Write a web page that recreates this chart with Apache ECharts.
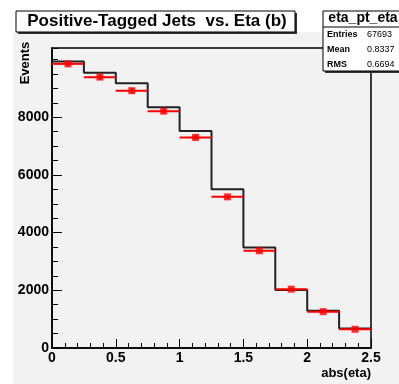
<!DOCTYPE html>
<html><head><meta charset="utf-8">
<script src="https://cdn.jsdelivr.net/npm/echarts@6/dist/echarts.min.js"></script>
<style>html,body{margin:0;padding:0;background:#fff}#c{width:399px;height:384px}</style>
</head><body><div id="c"></div>
<script>
// ---- data ----
const binEdges = [0, 0.25, 0.5, 0.75, 1.0, 1.25, 1.5, 1.75, 2.0, 2.25, 2.5];
const histValues = [9930, 9540, 9180, 8350, 7520, 5500, 3485, 2010, 1290, 680];
const pointValues = [9850, 9390, 8920, 8210, 7300, 5240, 3370, 2040, 1260, 650];
const pointErrors = [100, 97, 94, 91, 85, 72, 58, 45, 35, 25];
const yTickLabels = [0, 2000, 4000, 6000, 8000];
const xTickLabels = ['0', '0.5', '1', '1.5', '2', '2.5'];
const titleText = 'Positive-Tagged Jets  vs. Eta (b)';
const statsName = 'eta_pt_eta';
const statsRows = [['Entries', '67693'], ['Mean', '0.8337'], ['RMS', '0.6694']];

// ---- derived ----
const histData = histValues.map((v, i) => [binEdges[i], v]);
histData.push([binEdges[binEdges.length - 1], histValues[histValues.length - 1]]);
const pointData = pointValues.map((v, i) => [
  (binEdges[i] + binEdges[i + 1]) / 2, v, binEdges[i], binEdges[i + 1], pointErrors[i]
]);

const font = 'Liberation Sans';
const chart = echarts.init(document.getElementById('c'), null, {renderer: 'canvas'});

const statsGraphics = [];
const sx = 323, sy = 11, sw = 82, sh = 60;
statsGraphics.push({type: 'rect', shape: {x: sx + 2, y: sy + 2, width: sw, height: sh}, style: {fill: '#333'}, z: 20});
statsGraphics.push({type: 'rect', shape: {x: sx, y: sy, width: sw, height: sh}, style: {fill: '#fff', stroke: '#000', lineWidth: 1}, z: 21});
statsGraphics.push({type: 'text', x: 363, y: 18, style: {text: statsName, font: 'bold 14px ' + font, fill: '#000', align: 'center', verticalAlign: 'middle'}, z: 22});
statsGraphics.push({type: 'line', shape: {x1: sx, y1: 27, x2: 399, y2: 27}, style: {stroke: '#000', lineWidth: 1}, z: 22});
statsRows.forEach((r, i) => {
  const yy = 35 + i * 15;
  statsGraphics.push({type: 'text', x: 327, y: yy, style: {text: r[0], font: 'bold 9px ' + font, fill: '#000', align: 'left', verticalAlign: 'middle'}, z: 22});
  statsGraphics.push({type: 'text', x: 367, y: yy, style: {text: r[1], font: '9px ' + font, fill: '#000', align: 'left', verticalAlign: 'middle'}, z: 22});
});

chart.setOption({
  animation: false,
  backgroundColor: '#fff',
  grid: {left: 52, right: 28, top: 48, bottom: 36, show: true, borderColor: '#000', borderWidth: 1.5, backgroundColor: 'transparent'},
  xAxis: {
    type: 'value', min: 0, max: 2.5, interval: 0.5,
    axisLine: {show: true, onZero: false, lineStyle: {color: '#000', width: 1.5}},
    axisTick: {show: true, inside: true, length: 9, lineStyle: {color: '#000', width: 1}},
    minorTick: {show: true, splitNumber: 5, length: 5, lineStyle: {color: '#000', width: 1}},
    splitLine: {show: false},
    axisLabel: {color: '#000', fontFamily: font, fontWeight: 'bold', fontSize: 14, margin: 3,
      formatter: v => { const s = String(Math.round(v * 10) / 10); return xTickLabels.includes(s) ? s : ''; }}
  },
  yAxis: [{
    type: 'value', min: 0, max: 10400,
    axisLine: {show: true, lineStyle: {color: '#000', width: 1.5}},
    axisTick: {show: true, inside: true, length: 10, customValues: yTickLabels, lineStyle: {color: '#000', width: 1}},
    splitLine: {show: false},
    axisLabel: {color: '#000', fontFamily: font, fontWeight: 'bold', fontSize: 14, margin: 3, customValues: yTickLabels,
      formatter: v => String(v)}
  }, {
    type: 'value', min: 0, max: 10400, interval: 500, position: 'left',
    axisLine: {show: false},
    axisTick: {show: true, inside: true, length: 6, lineStyle: {color: '#000', width: 1}},
    splitLine: {show: false},
    axisLabel: {show: false}
  }],
  graphic: [
    {type: 'rect', shape: {x: 13, y: 32, width: 386, height: 352}, style: {fill: '#f2f2f2'}, z: -10, silent: true},
    {type: 'rect', shape: {x: 18, y: 13, width: 279, height: 21}, style: {fill: '#333'}, z: 20},
    {type: 'rect', shape: {x: 16, y: 11, width: 279, height: 21}, style: {fill: '#fff', stroke: '#000', lineWidth: 1}, z: 21},
    {type: 'text', x: 157, y: 21, style: {text: titleText, font: 'bold 17px ' + font, fill: '#000', align: 'center', verticalAlign: 'middle'}, z: 22},
    {type: 'text', x: 25, y: 63, rotation: Math.PI / 2, style: {text: 'Events', font: 'bold 13px ' + font, fill: '#000', align: 'center', verticalAlign: 'middle'}, z: 22},
    {type: 'text', x: 371, y: 373, style: {text: 'abs(eta)', font: 'bold 13px ' + font, fill: '#000', align: 'right', verticalAlign: 'middle'}, z: 22}
  ].concat(statsGraphics),
  series: [
    {type: 'line', data: histData, step: 'end', symbol: 'none', lineStyle: {color: '#222', width: 2}, z: 3},
    {type: 'custom', data: pointData, z: 4,
      renderItem: (params, api) => {
        const y = api.value(1), e = api.value(4);
        const pL = api.coord([api.value(2), y]);
        const pR = api.coord([api.value(3), y]);
        const pT = api.coord([api.value(0), y + e]);
        const pB = api.coord([api.value(0), y - e]);
        return {type: 'group', children: [
          {type: 'line', shape: {x1: pL[0], y1: pL[1], x2: pR[0], y2: pR[1]}, style: {stroke: '#ff0000', lineWidth: 2}},
          {type: 'line', shape: {x1: pT[0], y1: pT[1], x2: pB[0], y2: pB[1]}, style: {stroke: '#ff0000', lineWidth: 2}}
        ]};
      }},
    {type: 'scatter', data: pointData.map(d => [d[0], d[1]]), symbol: 'rect', symbolSize: 7, itemStyle: {color: '#ff0000'}, z: 5}
  ]
});
</script></body></html>
